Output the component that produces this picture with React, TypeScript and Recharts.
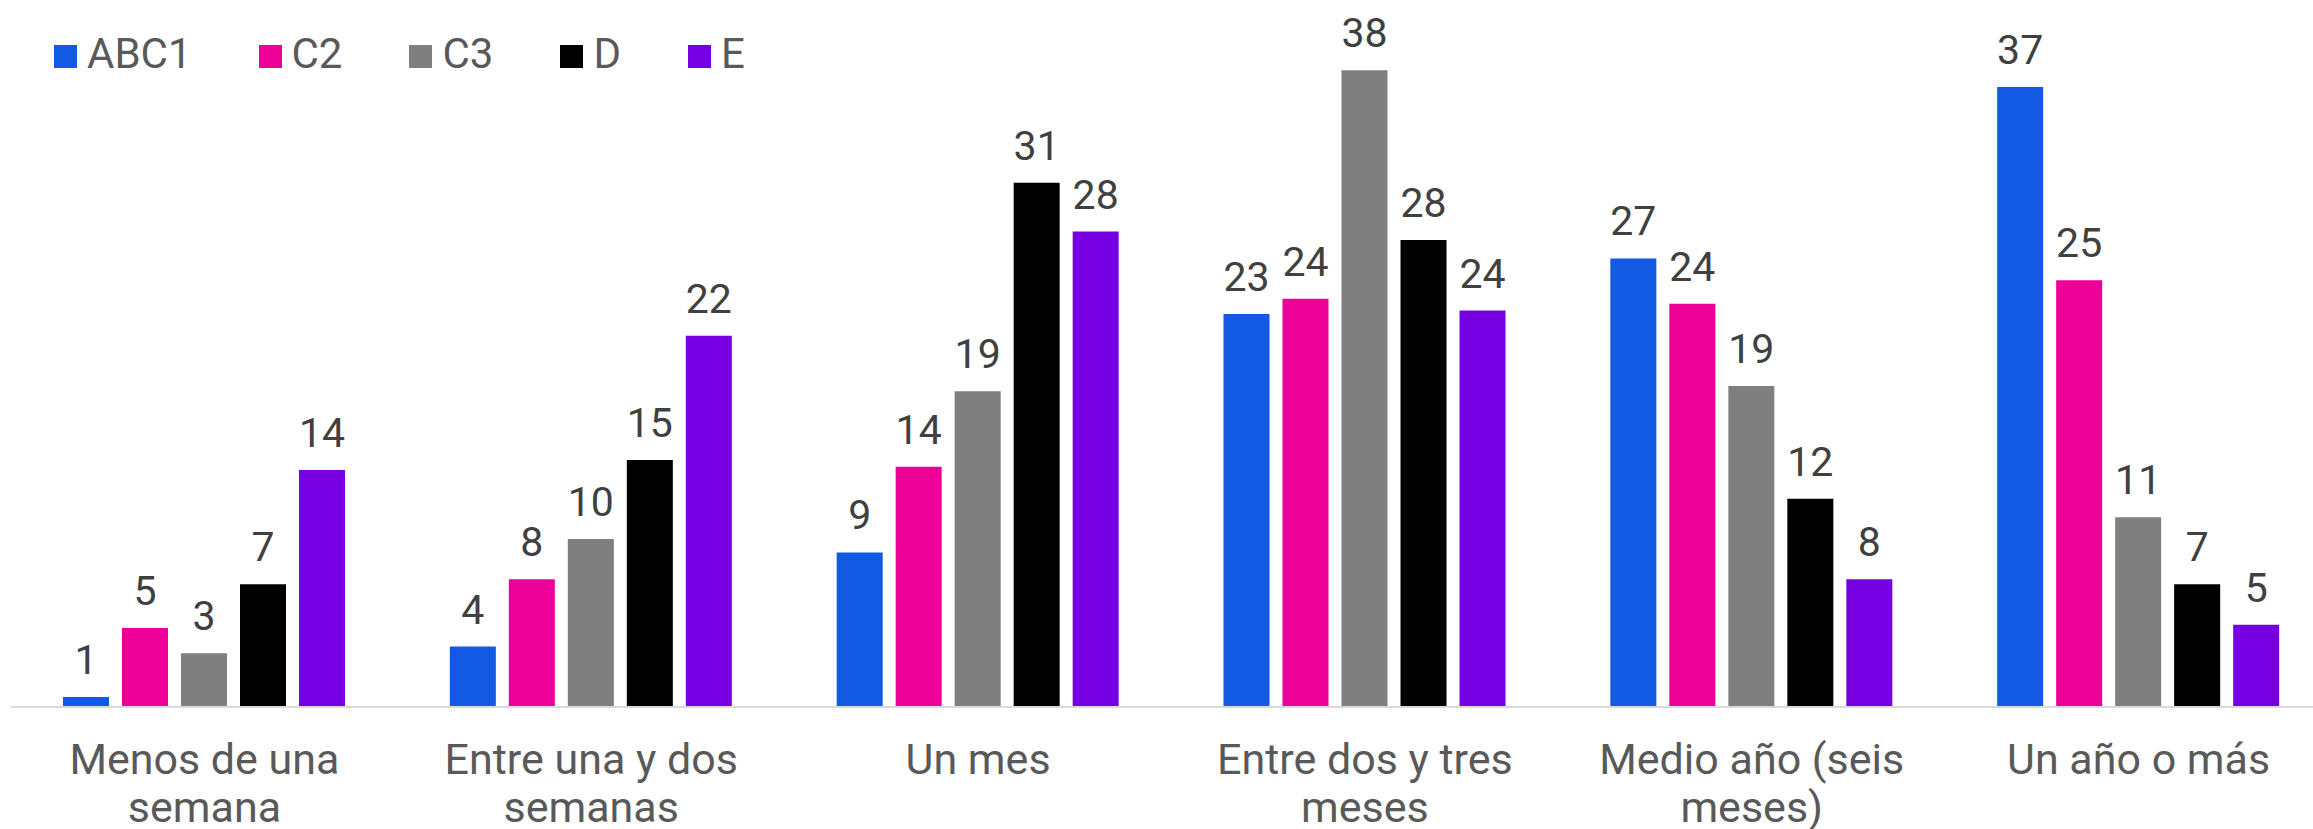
import React from "react";
import { BarChart, Bar, XAxis, YAxis, LabelList, Legend } from "recharts";

const categories = [
  "Menos de una semana",
  "Entre una y dos semanas",
  "Un mes",
  "Entre dos y tres meses",
  "Medio año (seis meses)",
  "Un año o más",
];

const tickLines: string[][] = [
  ["Menos de una", "semana"],
  ["Entre una y dos", "semanas"],
  ["Un mes"],
  ["Entre dos y tres", "meses"],
  ["Medio año (seis", "meses)"],
  ["Un año o más"],
];

const seriesNames = ["ABC1", "C2", "C3", "D", "E"];
const seriesColors = ["#1259E3", "#EC0098", "#7F7F7F", "#000000", "#7700E2"];

const abc1 = [0.6, 3.6, 9.2, 23.4, 26.7, 36.9];
const c2 = [4.7, 7.6, 14.3, 24.3, 24.0, 25.4];
const c3 = [3.2, 10.0, 18.8, 37.9, 19.1, 11.3];
const dSeries = [7.3, 14.7, 31.2, 27.8, 12.4, 7.3];
const eSeries = [14.1, 22.1, 28.3, 23.6, 7.6, 4.9];

const seriesValues = [abc1, c2, c3, dSeries, eSeries];

const data = categories.map((cat, i) => {
  const row: Record<string, string | number> = { cat };
  seriesNames.forEach((name, s) => {
    row[name] = seriesValues[s][i];
  });
  return row;
});

const FONT = "Roboto, 'Noto Sans', sans-serif";

const CategoryTick = (props: any) => {
  const { x, y, payload } = props;
  const idx = categories.indexOf(payload.value);
  const lines = tickLines[idx] || [String(payload.value)];
  return (
    <text x={x} y={y} textAnchor="middle" fill="#595959" fontSize={43} fontFamily={FONT}>
      {lines.map((l, i) => (
        <tspan key={i} x={x} dy={i === 0 ? 59 : 48}>
          {l}
        </tspan>
      ))}
    </text>
  );
};

const LegendContent = () => (
  <div style={{ display: "flex", alignItems: "center", fontFamily: FONT, whiteSpace: "nowrap" }}>
    {seriesNames.map((name, i) => (
      <div key={name} style={{ display: "flex", alignItems: "center", marginRight: 67 }}>
        <div
          style={{
            width: 23,
            height: 23,
            background: seriesColors[i],
            marginRight: 10,
            marginTop: 5,
          }}
        />
        <span style={{ fontSize: 42, lineHeight: "42px", color: "#595959" }}>{name}</span>
      </div>
    ))}
  </div>
);

export default function App() {
  return (
    <div
      style={{
        position: "fixed",
        left: 0,
        top: 0,
        width: 2313,
        height: 829,
        overflow: "hidden",
        background: "#ffffff",
      }}
    >
      <BarChart
        width={2340}
        height={829}
        data={data}
        margin={{ top: 35, right: 8, left: 11, bottom: 0 }}
        barGap={13}
      >
        <XAxis
          dataKey="cat"
          height={122}
          interval={0}
          tickLine={false}
          axisLine={{ stroke: "#D9D9D9", strokeWidth: 2 }}
          tick={<CategoryTick />}
        />
        <YAxis hide domain={[0, 40]} />
        <Legend
          layout="vertical"
          align="center"
          verticalAlign="middle"
          content={<LegendContent />}
          wrapperStyle={{ top: 33, left: 54, width: "auto", height: "auto" }}
        />
        {seriesNames.map((name, i) => (
          <Bar
            key={name}
            dataKey={name}
            fill={seriesColors[i]}
            barSize={46}
            isAnimationActive={false}
          >
            <LabelList
              dataKey={name}
              position="top"
              offset={23}
              fill="#404040"
              fontSize={41}
              fontFamily={FONT}
              formatter={(v: any) => Math.round(Number(v))}
            />
          </Bar>
        ))}
      </BarChart>
    </div>
  );
}
